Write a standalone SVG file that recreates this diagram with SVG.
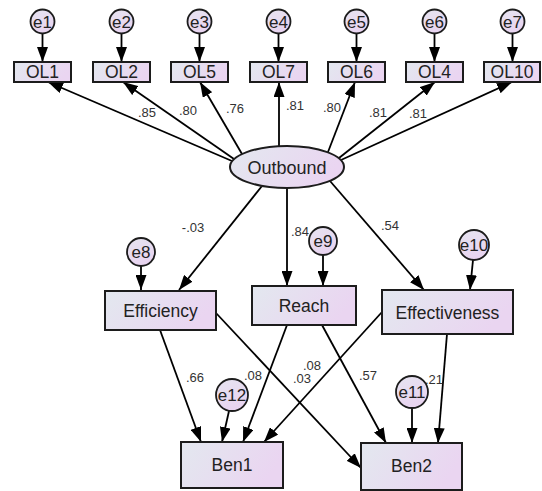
<svg xmlns="http://www.w3.org/2000/svg" width="542" height="491" viewBox="0 0 542 491">
<defs>
<linearGradient id="g" x1="0" y1="0" x2="1" y2="0.3">
<stop offset="0" stop-color="#e3e8ef"/>
<stop offset="1" stop-color="#ead5f1"/>
</linearGradient>
<linearGradient id="gc" x1="0" y1="0" x2="0.4" y2="1">
<stop offset="0" stop-color="#e6e4f0"/>
<stop offset="1" stop-color="#e8d4f0"/>
</linearGradient>
<marker id="ah" viewBox="0 0 15 11" refX="15" refY="5.5" markerWidth="15" markerHeight="11" orient="auto" markerUnits="userSpaceOnUse">
<path d="M0,0 L15,5.5 L0,11 z" fill="#000"/>
</marker>
<style>
.box{fill:url(#g);stroke:#1c1c1c;stroke-width:2}
.err{fill:url(#gc);stroke:#1c1c1c;stroke-width:1.8}
.lat{fill:url(#g);stroke:#1c1c1c;stroke-width:2}
.t{font-family:"Liberation Sans",Arial,sans-serif;fill:#222;text-anchor:middle}
.ob{font-size:17.5px}
.lb{font-size:17.5px}
.el{font-size:17px}
.n{font-family:"Liberation Sans",Arial,sans-serif;font-size:13px;fill:#333;text-anchor:middle}
.c line{stroke:#000;stroke-width:1.8;marker-end:url(#ah)}
</style>
</defs>
<rect width="542" height="491" fill="#fff"/>
<g id="connectors" class="c">
<line x1="42.5" y1="33.5" x2="42.5" y2="62"/>
<line x1="121.5" y1="33.5" x2="121.5" y2="62"/>
<line x1="199.5" y1="33.5" x2="199.5" y2="62"/>
<line x1="278.5" y1="33.5" x2="278.5" y2="62"/>
<line x1="356.5" y1="33.5" x2="356.5" y2="62"/>
<line x1="434.5" y1="33.5" x2="434.5" y2="62"/>
<line x1="512.5" y1="33.5" x2="512.5" y2="62"/>
<line x1="232" y1="161" x2="48" y2="82"/>
<line x1="234" y1="159" x2="123" y2="82"/>
<line x1="242" y1="154" x2="200" y2="82"/>
<line x1="279" y1="146" x2="279" y2="82"/>
<line x1="328" y1="152" x2="355" y2="82"/>
<line x1="339" y1="158" x2="435" y2="82"/>
<line x1="341" y1="160" x2="512" y2="82"/>
<line x1="262" y1="186" x2="179" y2="290"/>
<line x1="287" y1="188" x2="287" y2="286"/>
<line x1="330" y1="181" x2="424" y2="290"/>
<line x1="141" y1="266" x2="141" y2="290"/>
<line x1="323" y1="255" x2="323" y2="286"/>
<line x1="473" y1="260" x2="470" y2="290"/>
<line x1="160" y1="330" x2="201" y2="442"/>
<line x1="216" y1="313" x2="361" y2="468"/>
<line x1="287" y1="325" x2="243" y2="442"/>
<line x1="322" y1="325" x2="386" y2="443"/>
<line x1="382" y1="312" x2="264" y2="442"/>
<line x1="447" y1="334" x2="438" y2="443"/>
<line x1="229" y1="411" x2="222" y2="442"/>
<line x1="412" y1="408" x2="412" y2="443"/>
</g>
<g id="labels">
<text class="n" x="147" y="117">.85</text>
<text class="n" x="188" y="115">.80</text>
<text class="n" x="235" y="113">.76</text>
<text class="n" x="295" y="110">.81</text>
<text class="n" x="332" y="112">.80</text>
<text class="n" x="378" y="117">.81</text>
<text class="n" x="418" y="118">.81</text>
<text class="n" x="193" y="232">-.03</text>
<text class="n" x="300" y="236">.84</text>
<text class="n" x="390" y="230">.54</text>
<text class="n" x="195" y="382">.66</text>
<text class="n" x="253" y="380">.08</text>
<text class="n" x="302" y="383">.03</text>
<text class="n" x="312" y="370">.08</text>
<text class="n" x="368" y="380">.57</text>
<text class="n" x="434" y="384">.21</text>
</g>
<g id="OL1"><rect class="box" x="14" y="62" width="57" height="20"/><text class="t ob" x="42.5" y="78">OL1</text></g>
<g id="OL2"><rect class="box" x="93" y="62" width="57" height="20"/><text class="t ob" x="121.5" y="78">OL2</text></g>
<g id="OL5"><rect class="box" x="171" y="62" width="57" height="20"/><text class="t ob" x="199.5" y="78">OL5</text></g>
<g id="OL7"><rect class="box" x="250" y="62" width="57" height="20"/><text class="t ob" x="278.5" y="78">OL7</text></g>
<g id="OL6"><rect class="box" x="328" y="62" width="57" height="20"/><text class="t ob" x="356.5" y="78">OL6</text></g>
<g id="OL4"><rect class="box" x="406" y="62" width="57" height="20"/><text class="t ob" x="434.5" y="78">OL4</text></g>
<g id="OL10"><rect class="box" x="484" y="62" width="56" height="20"/><text class="t ob" x="512" y="78">OL10</text></g>
<g id="e1"><circle class="err" cx="42.5" cy="21.5" r="12"/><text class="t el" x="42.5" y="27.5">e1</text></g>
<g id="e2"><circle class="err" cx="121.5" cy="21.5" r="12"/><text class="t el" x="121.5" y="27.5">e2</text></g>
<g id="e3"><circle class="err" cx="199.5" cy="21.5" r="12"/><text class="t el" x="199.5" y="27.5">e3</text></g>
<g id="e4"><circle class="err" cx="278.5" cy="21.5" r="12"/><text class="t el" x="278.5" y="27.5">e4</text></g>
<g id="e5"><circle class="err" cx="356.5" cy="21.5" r="12"/><text class="t el" x="356.5" y="27.5">e5</text></g>
<g id="e6"><circle class="err" cx="434.5" cy="21.5" r="12"/><text class="t el" x="434.5" y="27.5">e6</text></g>
<g id="e7"><circle class="err" cx="512.5" cy="21.5" r="12"/><text class="t el" x="512.5" y="27.5">e7</text></g>
<g id="Outbound"><ellipse class="lat" cx="287" cy="167" rx="57" ry="21"/><text class="t" style="font-size:18px" x="287" y="173.5">Outbound</text></g>
<g id="Efficiency"><rect class="box" x="105" y="291" width="111" height="39"/><text class="t lb" x="160.5" y="317">Efficiency</text></g>
<g id="Reach"><rect class="box" x="252" y="286" width="104" height="39"/><text class="t lb" x="304" y="312">Reach</text></g>
<g id="Effectiveness"><rect class="box" x="382" y="290" width="131" height="44"/><text class="t lb" x="447.5" y="318.5">Effectiveness</text></g>
<g id="Ben1"><rect class="box" x="181" y="442" width="102" height="46"/><text class="t lb" x="232" y="471">Ben1</text></g>
<g id="Ben2"><rect class="box" x="361" y="443" width="101" height="47"/><text class="t lb" x="411.5" y="472">Ben2</text></g>
<g id="e8"><circle class="err" cx="141" cy="252" r="14"/><text class="t el" x="141" y="258">e8</text></g>
<g id="e9"><circle class="err" cx="323" cy="241" r="14"/><text class="t el" x="323" y="247">e9</text></g>
<g id="e10"><circle class="err" cx="474" cy="245" r="15"/><text class="t el" x="474" y="251">e10</text></g>
<g id="e12"><circle class="err" cx="232" cy="395" r="16"/><text class="t el" x="232" y="401">e12</text></g>
<g id="e11"><circle class="err" cx="412" cy="392" r="16"/><text class="t el" x="412" y="398">e11</text></g>
</svg>
